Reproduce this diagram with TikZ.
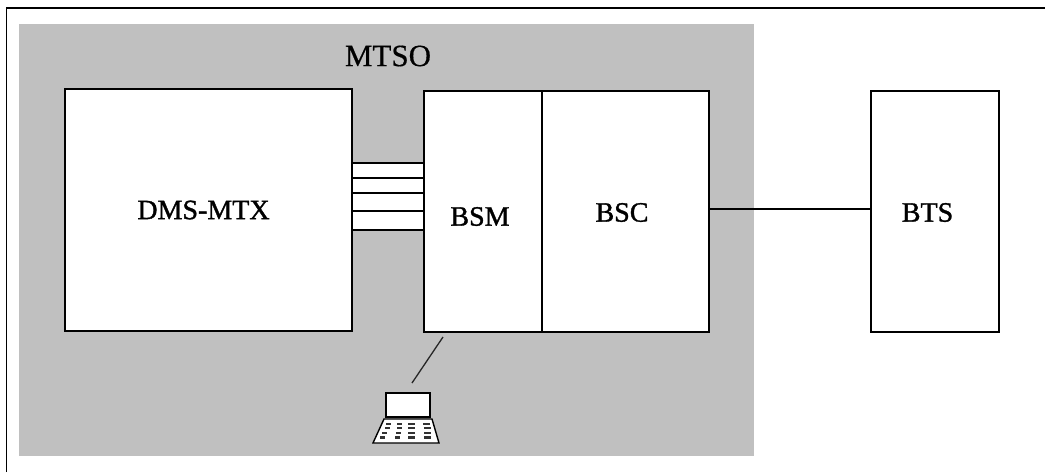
\documentclass[tikz,border=0pt]{standalone}
\usepackage{fontspec}
\setmainfont{Liberation Serif}
\newfontfamily\heavy[FakeBold=1.2]{Liberation Serif}
\newfontfamily\medium[FakeBold=0.5]{Liberation Serif}
\begin{document}
\begin{tikzpicture}[x=1pt,y=-1pt,
  boxn/.style={draw=black,fill=white,line width=1.7pt,inner sep=0pt,outer sep=0pt,anchor=north west},
  conn/.style={draw=black,line width=1.7pt},
  thin1/.style={draw=black!85,line width=1.3pt},
  lbl/.style={font=\heavy\fontsize{28pt}{30pt}\selectfont,inner sep=0pt,text=black},
  lblb/.style={font=\medium\fontsize{31pt}{33pt}\selectfont,inner sep=0pt,text=black}]
\useasboundingbox (0,0) rectangle (1045,472);
\fill[white] (0,0) rectangle (1045,472);
\draw[conn] (6.5,472) -- (6.5,8) -- (1045,8);
\fill[fill={rgb,255:red,192;green,192;blue,192}] (19,24) rectangle (754,456);
% ladder
\foreach \n/\y in {a/163,b/178,c/193,d/211,e/230}{
  \coordinate (l\n) at (352,\y);
  \coordinate (r\n) at (424,\y);
}
\fill[white] (la) rectangle (re);
\foreach \n in {a,b,c,d,e}{\draw[conn] (l\n) -- (r\n);}
\node[boxn,minimum width=287pt,minimum height=242pt] (dms) at (65,89) {};
\node[boxn,minimum width=118pt,minimum height=241pt] (bsm) at (424,91) {};
\node[boxn,minimum width=167pt,minimum height=241pt] (bsc) at (542,91) {};
\node[boxn,minimum width=128pt,minimum height=241pt] (bts) at (871,91) {};
\node[lblb] (mtso) at (388,56) {MTSO};
\node[lbl] (dmst) at (203.5,210) {DMS-MTX};
\node[lbl] (bsmt) at (480,216.5) {BSM};
\node[lbl] (bsct) at (622,212.5) {BSC};
\node[lbl] (btst) at (927.5,212.5) {BTS};
\coordinate (bscout) at (709,209);
\coordinate (btsin) at (871,209);
\draw[conn] (bscout) -- (btsin);
% laptop
\node[boxn,minimum width=44pt,minimum height=24pt] (screen) at (386,393) {};
\coordinate (bsmfoot) at (443,337);
\coordinate (lapfoot) at (412,383);
\draw[thin1] (bsmfoot) -- (lapfoot);
\draw[conn,line width=1.4pt,fill=white] (384,419) -- (432,419) -- (439,443) -- (373,443) -- cycle;
\foreach \y/\xa/\xb/\xc/\xd in {424/386/397/408/423, 428/384.5/397/408/423.5, 433/382/396/408/424, 437.5/380/395/408/424}{
  \foreach \x/\w in {\xa/5,\xb/5,\xc/7,\xd/7}{
    \fill[black!80] (\x,\y-1.2) rectangle ++(\w,2.4);
  }
}
\end{tikzpicture}
\end{document}
